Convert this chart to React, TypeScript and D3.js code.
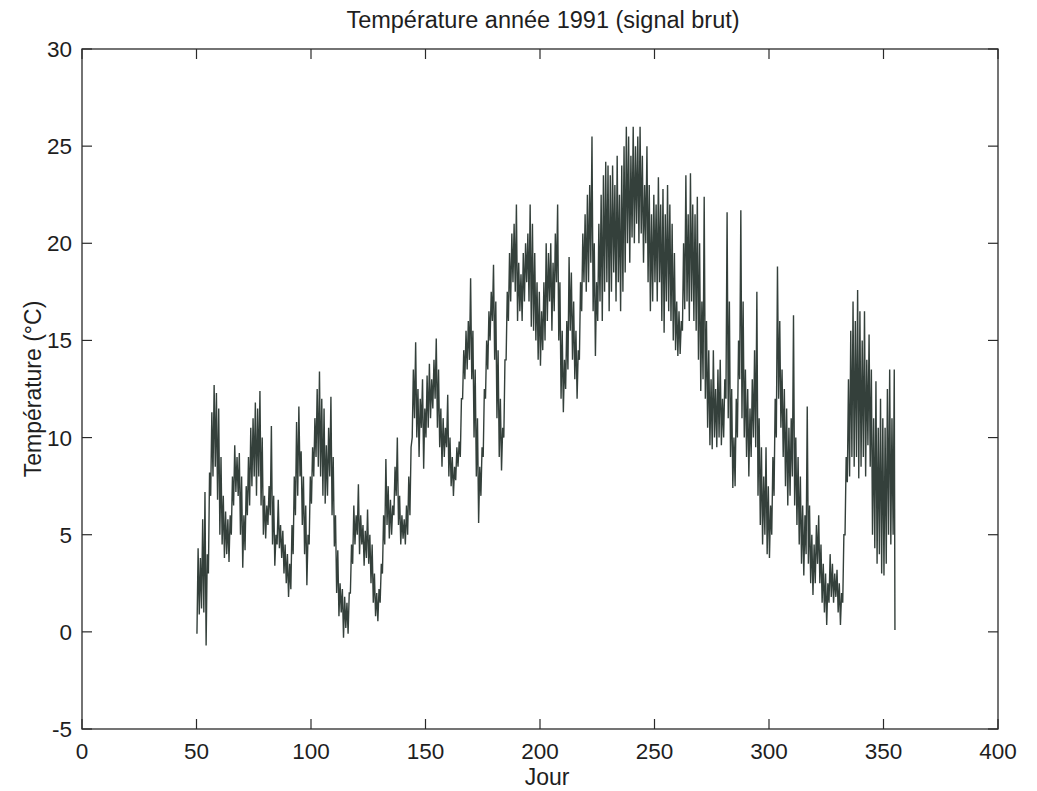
import React from "react";
import * as d3 from "d3";

// ---- Data (one low and one high reading per day) ----
const title = "Température année 1991 (signal brut)";
const xLabel = "Jour";
const yLabel = "Température (°C)";
const xTicks = [0, 50, 100, 150, 200, 250, 300, 350, 400];
const yTicks = [-5, 0, 5, 10, 15, 20, 25, 30];

const firstDay = 50;
// daily low readings, days 50..354
const dailyLow = [
  -0.1, 0.9, 1.2, 1.0, -0.7, 3.0, 7.0, 8.0, 8.5, 6.8,
  5.0, 4.5, 3.8, 4.0, 3.6, 5.0, 6.5, 7.2, 7.0, 5.0,
  3.3, 4.2, 6.0, 6.5, 7.5, 8.0, 7.0, 8.0, 6.5, 5.0,
  4.8, 5.5, 6.0, 4.5, 3.4, 4.5, 4.3, 3.8, 3.0, 2.5,
  1.8, 2.2, 4.0, 6.0, 7.0, 8.0, 5.5, 4.0, 2.4, 4.5,
  6.6, 8.0, 9.0, 8.5, 8.0, 7.0, 6.6, 7.0, 8.0, 6.0,
  4.4, 2.0, 0.8, 1.0, -0.3, 0.2, -0.1, 2.0, 3.5, 4.5,
  5.0, 4.0, 4.5, 3.4, 3.8, 3.5, 2.5, 1.5, 0.8, 0.55,
  1.5, 3.0, 4.5, 5.5, 4.8, 5.0, 6.0, 7.0, 5.5, 4.5,
  4.8, 4.5, 5.0, 6.0, 10.0, 11.0, 10.0, 9.0, 10.5, 8.4,
  10.0, 10.5, 11.0, 11.5, 12.0, 10.5, 9.5, 8.5, 9.0, 9.5,
  8.0, 7.5, 7.0, 7.8, 8.5, 9.0, 12.0, 13.0, 13.5, 14.0,
  13.0, 10.0, 8.0, 5.6, 7.0, 9.0, 12.0, 13.5, 15.0, 16.0,
  14.0, 11.0, 9.0, 8.3, 10.0, 14.0, 16.0, 17.0, 18.0, 17.5,
  16.0, 16.5, 16.0, 17.0, 18.0, 17.0, 15.7, 15.5, 15.0, 14.0,
  13.7, 14.5, 15.0, 16.0, 17.0, 15.5, 16.5, 18.0, 15.0, 12.0,
  11.3, 12.5, 13.5, 15.5, 14.0, 13.0, 12.0, 14.0, 16.5, 18.0,
  17.5, 18.0, 19.0, 16.5, 14.2, 16.0, 17.0, 16.0, 17.5, 18.0,
  16.5, 17.5, 18.5, 17.0, 18.0, 16.5, 17.5, 18.5, 20.0, 19.0,
  20.3, 20.0, 21.0, 20.0, 20.5, 19.0, 20.0, 18.0, 16.5, 17.0,
  18.0, 17.0, 18.0, 16.0, 15.4, 17.0, 16.5, 16.0, 15.0, 14.5,
  14.2, 14.3, 15.5, 16.6, 17.0, 16.0, 17.0, 16.0, 15.5, 14.0,
  12.4, 13.0, 12.0, 10.5, 9.6, 9.4, 10.0, 9.5, 10.0, 9.6,
  10.0, 12.0, 11.0, 9.0, 7.4, 7.5, 10.0, 13.0, 11.0, 10.0,
  9.0, 8.0, 9.0, 10.0, 9.5, 7.0, 5.5, 4.5, 5.0, 4.0,
  3.8, 5.0, 7.0, 10.0, 12.0, 10.5, 9.0, 7.5, 6.5, 7.0,
  8.0, 6.5, 5.5, 4.5, 3.5, 2.9, 4.0, 3.5, 2.5, 1.9,
  2.5, 3.5, 2.5, 1.5, 1.0, 0.35, 1.5, 1.8, 1.5, 1.8,
  1.0, 0.35, 1.5, 5.0, 7.7, 8.0, 9.0, 8.5, 9.0, 7.9,
  8.5, 9.0, 8.0, 9.6, 8.5, 5.0, 4.3, 3.5, 4.0, 3.0,
  2.9, 3.5, 5.0, 4.5, 5.0,
];
// daily high readings, days 50..354
const dailyHigh = [
  4.3, 3.8, 5.8, 7.2, 4.0, 8.2, 11.3, 12.7, 12.3, 11.5,
  9.0, 7.0, 6.2, 5.8, 6.0, 8.0, 9.6, 9.0, 9.2, 8.0,
  6.0, 7.5, 9.0, 10.5, 11.0, 11.8, 11.5, 12.4, 10.0, 7.0,
  6.5, 7.5, 10.6, 7.0, 5.0, 6.8, 5.5, 5.2, 4.5, 4.0,
  3.5, 5.5, 8.0, 10.8, 11.6, 9.3, 8.0, 6.5, 5.0, 8.0,
  9.5, 11.0, 12.5, 13.4, 12.0, 11.5, 9.6, 10.5, 12.1, 9.0,
  6.0, 4.2, 2.5, 2.2, 1.8, 1.5, 2.0, 4.5, 6.5, 6.0,
  7.6, 6.0, 5.5, 5.2, 6.3, 5.0, 4.5, 3.0, 2.0, 2.2,
  3.5, 6.0, 8.9, 7.5, 6.8, 6.5, 8.5, 10.0, 7.0, 6.0,
  5.8, 6.5, 8.0, 9.5, 13.5, 14.9, 12.5, 12.0, 13.0, 11.5,
  13.2, 13.8, 13.0, 14.0, 15.1, 13.5, 11.5, 11.0, 10.5, 12.2,
  10.0, 9.0, 8.5, 9.5, 9.8, 12.0, 14.5, 15.5, 16.0, 18.2,
  15.5, 13.5, 11.0, 8.5, 9.5, 12.5, 15.0, 16.5, 17.5, 18.9,
  17.0, 14.5, 12.0, 10.5, 14.0, 17.5, 19.5, 20.5, 21.0, 22.0,
  19.0, 18.4, 19.5, 20.0, 20.5, 22.0, 21.0, 19.5, 18.0, 17.5,
  16.5, 18.0, 20.0, 19.5, 20.0, 19.0, 20.5, 22.0, 18.0, 15.5,
  14.0, 16.0, 19.3, 18.5, 17.0, 15.5, 14.5, 18.0, 20.5, 21.5,
  22.5, 23.0, 25.5, 20.0, 18.0, 21.0, 22.5, 23.5, 24.2, 24.0,
  23.5, 24.0, 23.0, 24.5, 22.5, 24.0, 25.0, 26.0, 25.5, 24.5,
  26.0, 25.0, 25.5, 26.0, 24.5, 23.0, 25.0, 23.0, 21.5, 22.5,
  22.0, 23.4, 22.0, 22.8, 21.5, 23.0, 22.0, 21.0, 19.5, 17.0,
  16.5, 16.0, 20.0, 23.5, 21.5, 23.6, 22.0, 21.5, 22.4, 20.0,
  17.0, 22.4, 16.0, 14.5, 13.0, 14.5, 12.5, 13.5, 14.0, 12.0,
  13.0, 21.6, 17.0, 12.5, 10.0, 12.0, 15.0, 21.7, 17.0, 13.5,
  12.5, 11.5, 13.0, 14.5, 17.5, 11.0, 9.5, 8.0, 9.5, 7.5,
  6.5, 9.0, 12.0, 18.8, 16.0, 13.5, 12.5, 11.5, 10.5, 11.0,
  16.3, 10.0, 9.0, 8.0, 6.5, 6.0, 11.6, 6.5, 5.0, 4.5,
  5.5, 6.0, 4.5, 3.5, 3.0, 2.5, 4.0, 3.5, 3.0, 3.2,
  2.5, 2.0, 5.0, 9.0, 13.0, 15.5, 17.0, 16.0, 17.6, 16.5,
  15.0, 16.5, 14.0, 15.3, 13.5, 11.0, 12.9, 10.5, 12.0, 11.0,
  10.5, 12.5, 13.5, 11.0, 13.5,
];
const lastDay = 355;
const lastReading = 0.1;

// ---- Layout ----
const W = 1037;
const H = 791;
const M = { left: 82, right: 998, top: 49, bottom: 729 };
const FONT = "'Liberation Sans', Arial, Helvetica, sans-serif";
const LINE_COLOR = "#34403b";
const AXIS_COLOR = "#2a2a2a";
const TEXT_COLOR = "#1e1e1e";

export default function App() {
  const x = d3.scaleLinear().domain([0, 400]).range([M.left, M.right]);
  const y = d3.scaleLinear().domain([-5, 30]).range([M.bottom, M.top]);

  const points: [number, number][] = [];
  dailyLow.forEach((lo, i) => {
    const d = firstDay + i;
    points.push([d + 0.2, lo]);
    points.push([d + 0.7, dailyHigh[i]]);
  });
  points.push([lastDay, lastReading]);

  const line = d3
    .line<[number, number]>()
    .x((p) => x(p[0]))
    .y((p) => y(p[1]));

  const tickLen = 10;

  return (
    <svg
      width={W}
      height={H}
      style={{ position: "absolute", left: 0, top: 0, background: "#fff" }}
      fontFamily={FONT}
    >
      <rect x={0} y={0} width={W} height={H} fill="#fff" />
      {/* data */}
      <path d={line(points) || ""} fill="none" stroke={LINE_COLOR} strokeWidth={1.4} strokeLinejoin="miter" />

      {/* box */}
      <rect
        x={M.left}
        y={M.top}
        width={M.right - M.left}
        height={M.bottom - M.top}
        fill="none"
        stroke={AXIS_COLOR}
        strokeWidth={1.3}
      />

      {/* x ticks */}
      {xTicks.map((t) => (
        <g key={"x" + t}>
          <line x1={x(t)} x2={x(t)} y1={M.bottom} y2={M.bottom - tickLen} stroke={AXIS_COLOR} strokeWidth={1.2} />
          <line x1={x(t)} x2={x(t)} y1={M.top} y2={M.top + tickLen} stroke={AXIS_COLOR} strokeWidth={1.2} />
          <text x={x(t)} y={759} textAnchor="middle" fontSize={22.5} fill={TEXT_COLOR}>
            {t}
          </text>
        </g>
      ))}

      {/* y ticks */}
      {yTicks.map((t) => (
        <g key={"y" + t}>
          <line x1={M.left} x2={M.left + tickLen} y1={y(t)} y2={y(t)} stroke={AXIS_COLOR} strokeWidth={1.2} />
          <line x1={M.right} x2={M.right - tickLen} y1={y(t)} y2={y(t)} stroke={AXIS_COLOR} strokeWidth={1.2} />
          <text x={M.left - 10} y={y(t) + 8} textAnchor="end" fontSize={22.5} fill={TEXT_COLOR}>
            {t}
          </text>
        </g>
      ))}

      {/* labels */}
      <text x={543} y={28} textAnchor="middle" fontSize={23.5} fill={TEXT_COLOR}>
        {title}
      </text>
      <text x={547} y={785} textAnchor="middle" fontSize={23} fill={TEXT_COLOR}>
        {xLabel}
      </text>
      <text
        transform={`translate(41, ${(M.top + M.bottom) / 2}) rotate(-90)`}
        textAnchor="middle"
        fontSize={23}
        fill={TEXT_COLOR}
      >
        {yLabel}
      </text>
    </svg>
  );
}
